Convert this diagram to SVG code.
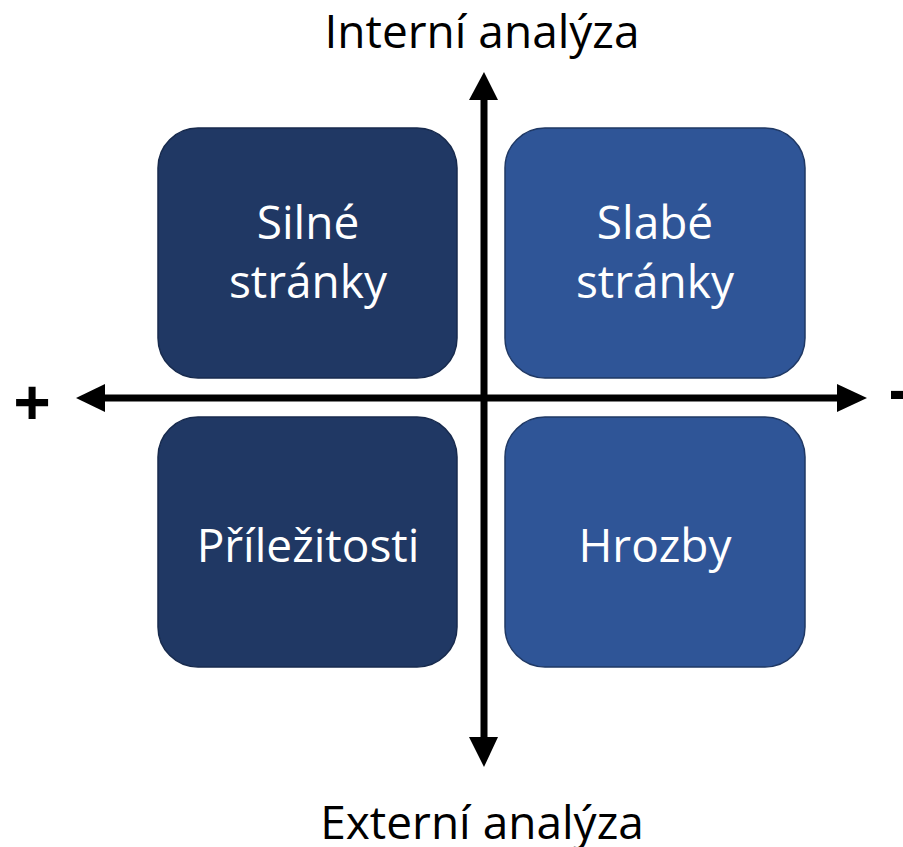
<svg xmlns="http://www.w3.org/2000/svg" width="903" height="847" viewBox="0 0 903 847">
<style>
.dark{fill:#203864;stroke:#172a4d;stroke-width:1.5}
.light{fill:#2f5597;stroke:#1f3864;stroke-width:1.5}
.lbl{font-family:"Open Sans","Liberation Sans",sans-serif;font-size:46px;fill:#fff;text-anchor:middle}
.ax{font-family:"Open Sans","Liberation Sans",sans-serif;font-size:46px;fill:#000;text-anchor:middle}
.sym{font-family:"Open Sans","Liberation Sans",sans-serif;font-size:66px;font-weight:bold;text-anchor:middle;fill:#000}
.line{stroke:#000;stroke-width:7;fill:none}
</style>
<rect width="903" height="847" fill="#fff"/>
<g id="strengths"><rect class="dark" x="158" y="128" width="299" height="250" rx="40"/><text class="lbl" x="308" y="239">Silné</text><text class="lbl" x="308" y="298">stránky</text></g>
<g id="weaknesses"><rect class="light" x="505" y="128" width="300" height="250" rx="40"/><text class="lbl" x="655" y="239">Slabé</text><text class="lbl" x="655" y="298">stránky</text></g>
<g id="opportunities"><rect class="dark" x="158" y="417" width="299" height="250" rx="40"/><text class="lbl" x="308" y="562">Příležitosti</text></g>
<g id="threats"><rect class="light" x="505" y="417" width="300" height="250" rx="40"/><text class="lbl" x="655" y="562">Hrozby</text></g>
<g id="connectors">
<line class="line" x1="484" y1="98" x2="484" y2="740"/>
<polygon points="484,72 469,100 498,100" fill="#000"/>
<polygon points="484,767 469,737 498,737" fill="#000"/>
<line class="line" x1="102" y1="398" x2="840" y2="398"/>
<polygon points="76,398 105,384 105,412" fill="#000"/>
<polygon points="867,398 837,384 837,412" fill="#000"/>
</g>
<g id="labels">
<text class="ax" x="482" y="48">Interní analýza</text>
<text class="ax" x="482" y="839">Externí analýza</text>
<text class="sym" x="32" y="426">+</text>
<text class="sym" x="889" y="413" style="text-anchor:start">-</text>
</g>
</svg>
